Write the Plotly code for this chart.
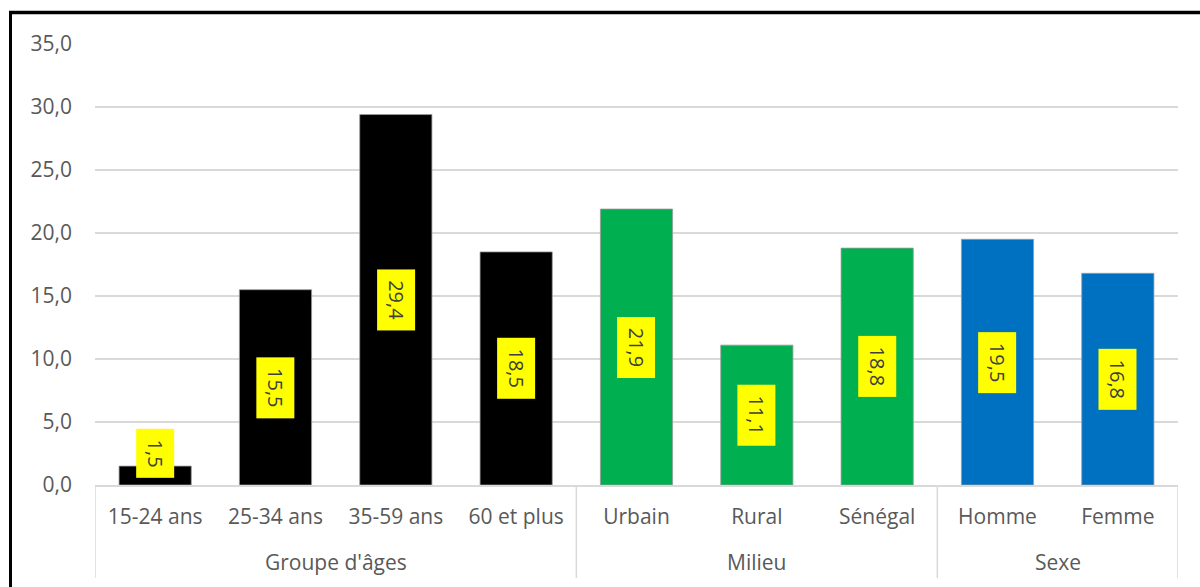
import plotly.graph_objects as go

groups = ["Groupe d'âges"] * 4 + ["Milieu"] * 3 + ["Sexe"] * 2
categories = ["15-24 ans", "25-34 ans", "35-59 ans", "60 et plus",
              "Urbain", "Rural", "Sénégal", "Homme", "Femme"]
values = [1.5, 15.5, 29.4, 18.5, 21.9, 11.1, 18.8, 19.5, 16.8]
colors = ["#000000"] * 4 + ["#00B050"] * 3 + ["#0070C0"] * 2
y_ticks = [0, 5, 10, 15, 20, 25, 30, 35]

FONT = "Open Sans"
W, H = 1200, 587
L, R, T, B = 95, 22, 44, 102
pw = W - L - R
ph = H - T - B

fig = go.Figure()
fig.add_trace(go.Bar(
    x=categories, y=values,
    marker=dict(color=colors, line=dict(color="#9a9a9a", width=0.8)),
    width=0.6, hoverinfo="skip",
))

# data labels
for i, v in enumerate(values):
    fig.add_annotation(
        x=i, y=max(v / 2, 2.5), xref="x", yref="y",
        text="&nbsp;" + f"{v:.1f}".replace(".", ",") + "&nbsp;",
        textangle=90, showarrow=False,
        bgcolor="#FFFF00", borderpad=5,
        font=dict(family=FONT, size=20, color="#404040"),
    )

# group labels and dividers (two-level category axis)
ordered = []
for g in groups:
    if g not in ordered:
        ordered.append(g)
start = 0
div_bottom = -(578 - (H - B)) / ph
boundaries = [-0.5]
for g in ordered:
    n = groups.count(g)
    center = start + (n - 1) / 2
    fig.add_annotation(
        x=center, y=-(562 - (H - B)) / ph, xref="x", yref="paper",
        text=g, showarrow=False, yanchor="middle",
        font=dict(family=FONT, size=21, color="#595959"),
    )
    start += n
    boundaries.append(start - 0.5)
for bx in boundaries:
    fig.add_shape(type="line", xref="x", yref="paper",
                  x0=bx, x1=bx, y0=0, y1=div_bottom,
                  line=dict(color="#d9d9d9", width=1.5))

# frame lines (left and top)
fig.add_shape(type="line", xref="paper", yref="paper",
              x0=(10.5 - L) / pw, x1=(10.5 - L) / pw,
              y0=(H - B - 12) / ph, y1=-0.5,
              line=dict(color="black", width=3))
fig.add_shape(type="line", xref="paper", yref="paper",
              x0=(9 - L) / pw, x1=1.2,
              y0=(H - B - 12.5) / ph, y1=(H - B - 12.5) / ph,
              line=dict(color="black", width=3.5))

fig.update_layout(
    width=W, height=H,
    margin=dict(l=L, r=R, t=T, b=B),
    paper_bgcolor="white", plot_bgcolor="white",
    separators=", ",
    showlegend=False,
    bargap=0.4,
    font=dict(family=FONT, color="#595959"),
)
fig.update_xaxes(
    type="category", range=[-0.5, len(categories) - 0.5],
    tickfont=dict(family=FONT, size=21, color="#595959"),
    showline=True, linecolor="#d9d9d9", linewidth=1.5,
    ticks="", showgrid=False, ticklabelstandoff=12,
)
fig.update_yaxes(
    range=[0, 35], tickvals=y_ticks, tickformat=".1f",
    tickfont=dict(family=FONT, size=21, color="#595959"),
    showgrid=True, gridcolor="#d9d9d9", gridwidth=1.5,
    zeroline=False, showline=False, ticklabelstandoff=22,
)

fig.write_html("out.html")
